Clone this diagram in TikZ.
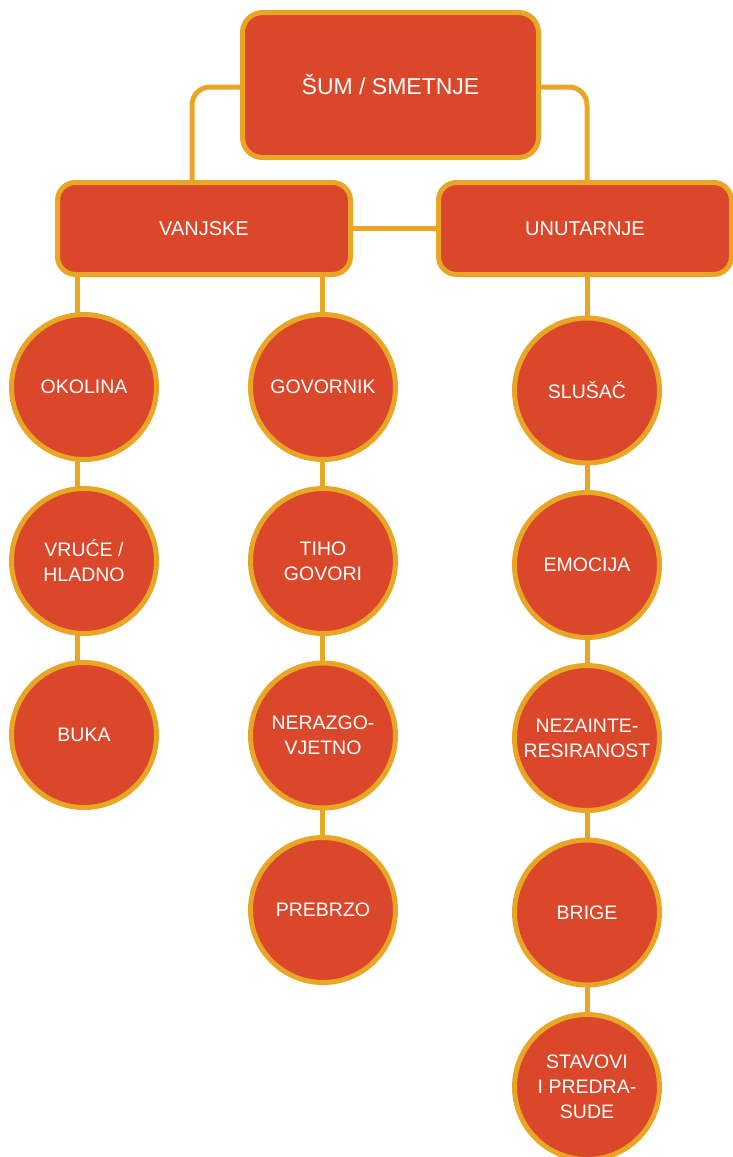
\documentclass[tikz,border=0pt]{standalone}
\usepackage{fontspec}
\setmainfont{Liberation Sans}
\usetikzlibrary{backgrounds,calc}
\definecolor{boxred}{HTML}{DB472A}
\definecolor{gold}{HTML}{E9A625}
\begin{document}
\begin{tikzpicture}[x=1pt,y=-1pt,
  every node/.style={text=white,inner sep=0pt,align=center},
  rbox/.style={draw=gold,fill=boxred,line width=5pt,rounded corners=20pt,font=\fontsize{20}{24}\selectfont},
  topbox/.style={rbox,minimum width=296pt,minimum height=145pt,font=\fontsize{23}{27}\selectfont},
  subbox/.style={rbox,minimum width=293pt,minimum height=92pt,rounded corners=18pt},
  dot/.style={circle,draw=gold,fill=boxred,line width=5pt,minimum size=145pt,font=\fontsize{19.5}{25}\selectfont},
  link/.style={draw=gold,line width=5pt}]
\useasboundingbox (0,0) rectangle (732,1157);
\node[topbox] (top) at (390.5,85) {ŠUM / SMETNJE};
\node[subbox] (van) at (204,228.5) {VANJSKE};
\node[subbox] (unu) at (585,228.5) {UNUTARNJE};
\node[dot] (okolina) at (84,387) {OKOLINA};
\node[dot] (vruce) at (84,561) {VRUĆE /\\HLADNO};
\node[dot] (buka) at (84,735) {BUKA};
\node[dot] (govornik) at (323,387) {GOVORNIK};
\node[dot] (tiho) at (323,561) {TIHO\\GOVORI};
\node[dot] (neraz) at (323,735.5) {NERAZGO-\\VJETNO};
\node[dot] (prebrzo) at (323,910) {PREBRZO};
\node[dot] (slusac) at (587,390.5) {SLUŠAČ};
\node[dot] (emocija) at (587,565) {EMOCIJA};
\node[dot] (nezaint) at (587,738) {NEZAINTE-\\RESIRANOST};
\node[dot] (brige) at (587,912.5) {BRIGE};
\node[dot] (stavovi) at (587,1087) {STAVOVI\\I PREDRA-\\SUDE};
\coordinate (lc) at (192,0);
\coordinate (rc) at (587,0);
\coordinate (c1) at (77,0);
\coordinate (c2) at (322,0);
\begin{scope}[on background layer]
\draw[link,rounded corners=18pt] ([yshift=-2pt]top.west) -| (lc |- van.north);
\draw[link,rounded corners=18pt] ([yshift=-2pt]top.east) -| (rc |- unu.north);
\draw[link] (van.east) -- (unu.west);
\draw[link] (c1 |- van.south) -- (c1 |- buka.center);
\draw[link] (c2 |- van.south) -- (c2 |- prebrzo.center);
\draw[link] (rc |- unu.south) -- (rc |- stavovi.center);
\end{scope}
\end{tikzpicture}
\end{document}
